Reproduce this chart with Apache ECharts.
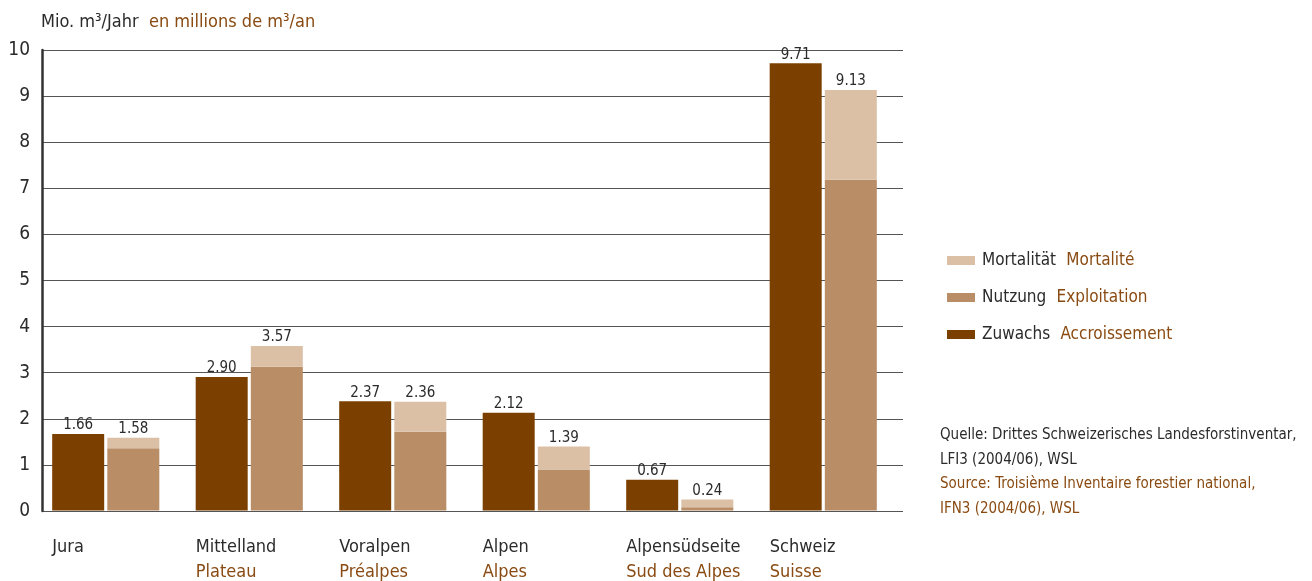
<!DOCTYPE html>
<html>
<head>
<meta charset="utf-8">
<script src="https://cdn.jsdelivr.net/npm/echarts@6/dist/echarts.min.js"></script>
<style>
  html, body { margin: 0; padding: 0; background: #fff; }
  #chart { width: 1312px; height: 581px; }
</style>
</head>
<body>
<div id="chart"></div>
<script>
const regionsDe = ['Jura', 'Mittelland', 'Voralpen', 'Alpen', 'Alpensüdseite', 'Schweiz']
const regionsFr = ['', 'Plateau', 'Préalpes', 'Alpes', 'Sud des Alpes', 'Suisse']
const zuwachs = [1.66, 2.90, 2.37, 2.12, 0.67, 9.71]
const nutzung = [1.35, 3.12, 1.71, 0.89, 0.07, 7.18]
const mortalitaet = [0.23, 0.45, 0.65, 0.50, 0.17, 1.95]
const yTicks = [0, 1, 2, 3, 4, 5, 6, 7, 8, 9, 10]

const FONT = '"Liberation Sans Narrow", "DejaVu Sans Condensed", "Roboto", sans-serif'
const DARK = '#2b2b2b'
const BROWN = '#8a4b12'
const C_ZUW = '#7b4000'
const C_NUT = '#b98e66'
const C_MOR = '#dcc0a6'

const chart = echarts.init(document.getElementById('chart'))

const legendNames = {
  'Mortalität': 'Mortalité',
  'Nutzung': 'Exploitation',
  'Zuwachs': 'Accroissement'
}

chart.setOption({
  animation: false,
  textStyle: { fontFamily: FONT },
  grid: [
    { left: 42, top: 50, width: 861, height: 461 },
    { left: 34, top: 50, width: 861, height: 461 }
  ],
  title: {
    left: 36, top: 8,
    text: '{a|Mio. m³/Jahr}  {b|en millions de m³/an}',
    textStyle: {
      fontWeight: 'normal',
      rich: {
        a: { fontFamily: FONT, fontSize: 18, color: DARK, fontWeight: 'normal' },
        b: { fontFamily: FONT, fontSize: 18, color: BROWN, fontWeight: 'normal' }
      }
    }
  },
  legend: {
    orient: 'vertical', left: 942, top: 247,
    itemWidth: 28, itemHeight: 9, itemGap: 20,
    data: ['Mortalität', 'Nutzung', 'Zuwachs'],
    icon: 'rect',
    formatter: n => `{a|${n}}   {b|${legendNames[n]}}`,
    textStyle: {
      padding: [0, 0, 0, 2],
      rich: {
        a: { fontFamily: FONT, fontSize: 17, color: DARK, height: 18 },
        b: { fontFamily: FONT, fontSize: 17, color: BROWN, height: 18 }
      }
    }
  },
  xAxis: [
    { type: 'category', gridIndex: 0, data: regionsDe, show: false },
    {
      type: 'category', gridIndex: 1, data: regionsDe,
      axisLine: { show: false }, axisTick: { show: false },
      axisLabel: {
        interval: 0, margin: 24,
        formatter: (v, i) => `{a|${v}}\n{b|${regionsFr[i]}}`,
        rich: {
          a: { fontFamily: FONT, fontSize: 18, color: DARK, width: 107, align: 'left', lineHeight: 25 },
          b: { fontFamily: FONT, fontSize: 18, color: BROWN, width: 107, align: 'left', lineHeight: 25 }
        }
      }
    }
  ],
  yAxis: [
    {
      type: 'value', gridIndex: 0, min: 0, max: 10, interval: 1,
      axisLine: { show: true, lineStyle: { color: '#333', width: 2.5 } },
      axisTick: { show: false },
      axisLabel: { fontFamily: FONT, fontSize: 19, color: DARK, margin: 12,
        formatter: v => yTicks.includes(v) ? String(v) : '' },
      splitLine: { lineStyle: { color: '#555', width: 1.2 } }
    },
    { type: 'value', gridIndex: 1, min: 0, max: 10, show: false, splitLine: { show: false } }
  ],
  graphic: [
    {
      type: 'text', left: 940, top: 428,
      style: {
        text: '{a|Quelle: Drittes Schweizerisches Landesforstinventar,}\n{a|LFI3 (2004/06), WSL}\n{b|Source: Troisième Inventaire forestier national,}\n{b|IFN3 (2004/06), WSL}',
        rich: {
          a: { fontFamily: FONT, fontSize: 15, fill: DARK, lineHeight: 24.5 },
          b: { fontFamily: FONT, fontSize: 15, fill: BROWN, lineHeight: 24.5 }
        }
      }
    }
  ],
  series: [
    {
      name: 'Zuwachs', type: 'bar', xAxisIndex: 1, yAxisIndex: 1,
      data: zuwachs, barWidth: 52, barGap: '6%',
      itemStyle: { color: C_ZUW },
      label: { show: true, position: 'top', distance: 1, fontFamily: FONT, fontSize: 15, color: DARK,
        formatter: p => p.value.toFixed(2) }
    },
    {
      name: 'Nutzung', type: 'bar', xAxisIndex: 1, yAxisIndex: 1, stack: 'ab',
      data: nutzung, barWidth: 52, barGap: '6%',
      itemStyle: { color: C_NUT }
    },
    {
      name: 'Mortalität', type: 'bar', xAxisIndex: 1, yAxisIndex: 1, stack: 'ab',
      data: mortalitaet, barWidth: 52, barGap: '6%',
      itemStyle: { color: C_MOR },
      label: { show: true, position: 'top', distance: 1, fontFamily: FONT, fontSize: 15, color: DARK,
        formatter: p => (nutzung[p.dataIndex] + mortalitaet[p.dataIndex]).toFixed(2) }
    }
  ]
})

window.addEventListener('resize', () => chart.resize())
</script>
</body>
</html>
